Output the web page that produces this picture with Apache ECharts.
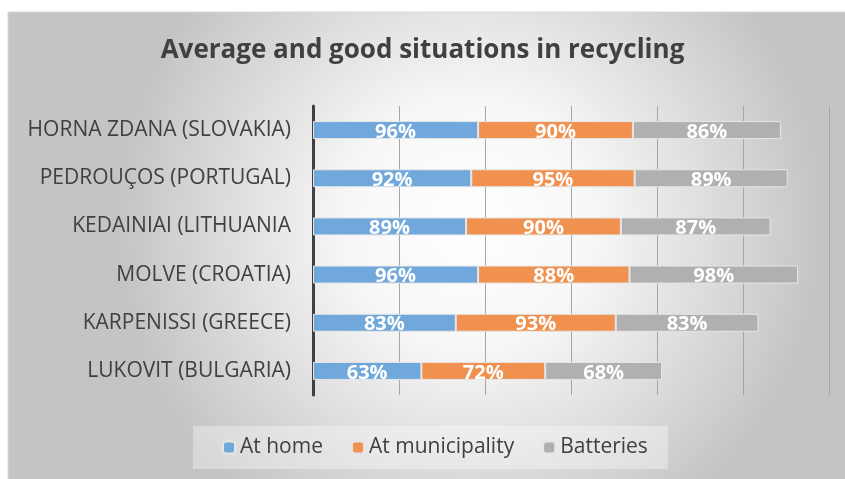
<!DOCTYPE html>
<html>
<head>
<meta charset="utf-8">
<script src="https://cdn.jsdelivr.net/npm/echarts@6/dist/echarts.min.js"></script>
<style>
    html, body { margin: 0; padding: 0; background: #fff; }
    #chart { width: 845px; height: 479px; }
</style>
</head>
<body>
<div id="chart"></div>
<script>
    var categories = ['HORNA ZDANA (SLOVAKIA)', 'PEDROUÇOS (PORTUGAL)', 'KEDAINIAI (LITHUANIA',
        'MOLVE (CROATIA)', 'KARPENISSI (GREECE)', 'LUKOVIT (BULGARIA)'];
    var atHome = [96, 92, 89, 96, 83, 63];
    var atMunicipality = [90, 95, 90, 88, 93, 72];
    var batteries = [86, 89, 87, 98, 83, 68];

    var chart = echarts.init(document.getElementById('chart'));
    var font = '"Open Sans", "Noto Sans", sans-serif';

    function bar(name, data, color) {
        return {
            name: name,
            type: 'bar',
            stack: 'total',
            barWidth: 18,
            data: data,
            itemStyle: {color: color, borderColor: '#e6e6e6', borderWidth: 1},
            label: {
                show: true,
                position: 'inside',
                offset: [0, 2],
                formatter: '{c}%',
                color: '#fff',
                fontFamily: font,
                fontWeight: 'bold',
                fontSize: 20
            }
        };
    }

    var option = {
        animation: false,
        graphic: [{
            type: 'rect',
            z: -10,
            shape: {x: 8, y: 12, width: 840, height: 470},
            style: {
                fill: new echarts.graphic.RadialGradient(0.55, 0.45, 0.75, [
                    {offset: 0, color: '#ffffff'},
                    {offset: 0.35, color: '#f7f7f7'},
                    {offset: 1, color: '#c4c4c4'}
                ]),
                stroke: '#d8d8d8',
                lineWidth: 1
            }
        }],
        title: {
            text: 'Average and good situations in recycling',
            left: 'center',
            top: 33,
            textStyle: {fontFamily: font, fontWeight: 'bold', fontSize: 26, color: '#404040'}
        },
        legend: {
            bottom: 10,
            left: 193,
            itemWidth: 12,
            itemHeight: 12,
            itemGap: 28,
            padding: [11, 20, 11, 29],
            backgroundColor: 'rgba(255,255,255,0.35)',
            textStyle: {fontFamily: font, fontSize: 21, color: '#404040'},
            data: ['At home', 'At municipality', 'Batteries']
        },
        grid: {left: 313, right: 16, top: 106, bottom: 84},
        xAxis: {
            type: 'value',
            min: 0,
            max: 300,
            interval: 50,
            axisLabel: {show: false},
            axisLine: {show: false},
            axisTick: {show: false},
            splitLine: {lineStyle: {color: '#a6a6a6', width: 1}}
        },
        yAxis: {
            type: 'category',
            inverse: true,
            data: categories,
            axisTick: {show: false},
            axisLine: {lineStyle: {color: '#404040', width: 3}},
            axisLabel: {fontFamily: font, fontSize: 21, color: '#404040', margin: 22}
        },
        series: [
            bar('At home', atHome, '#71a8db'),
            bar('At municipality', atMunicipality, '#f09150'),
            bar('Batteries', batteries, '#b0b0b0')
        ]
    };

    chart.setOption(option);
</script>
</body>
</html>
